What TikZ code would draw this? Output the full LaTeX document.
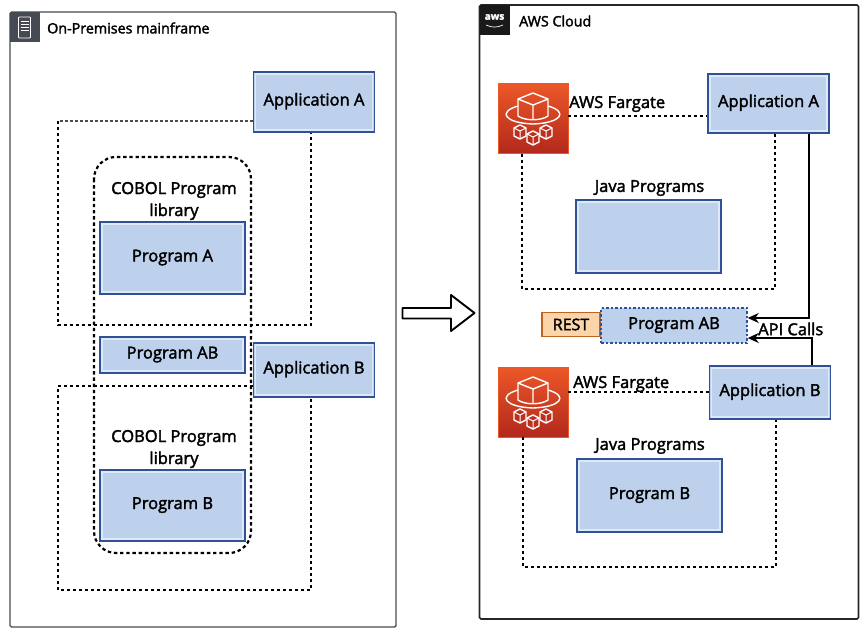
\documentclass[tikz,border=0pt]{standalone}
\usepackage{fontspec}
\setmainfont{Open Sans}[FakeBold=2.2]
\usetikzlibrary{arrows.meta}
\definecolor{boxfill}{RGB}{189,209,236}
\definecolor{boxline}{RGB}{47,82,150}
\definecolor{boxglow}{RGB}{222,233,247}
\definecolor{framec}{RGB}{70,74,82}
\definecolor{fgtop}{RGB}{236,88,40}
\definecolor{fgbot}{RGB}{178,40,28}
\definecolor{restfill}{RGB}{252,212,170}
\definecolor{restline}{RGB}{190,100,30}
\tikzset{
  x=1pt,y=-1pt,
  sz/.style 2 args={minimum width=#1pt,minimum height=#2pt},
  lbl/.style={font=\fontsize{16.5}{22}\selectfont,inner sep=0pt,align=center,text=black},
  small/.style={font=\fontsize{14.3}{20}\selectfont,inner sep=0pt,anchor=west,text=black},
  glow/.style={path picture={\draw[boxglow,line width=1.1pt] ([shift={(2pt,2pt)}]path picture bounding box.south west) rectangle ([shift={(-2pt,-2pt)}]path picture bounding box.north east);}},
  bluebox/.style={draw=boxline,line width=1.5pt,fill=boxfill,inner sep=0pt,font=\fontsize{16.5}{22}\selectfont,align=center,text height=12pt,text depth=5pt,glow},
  dots/.style={draw=black,line width=2.2pt,dash pattern=on 3pt off 3pt},
  conn/.style={draw=black,line width=2pt,-{Stealth[length=11pt,width=10pt]}},
  frame/.style={draw=framec,line width=1.4pt,rounded corners=1.5pt},
  fgbox/.style={inner sep=0pt,minimum width=70pt,minimum height=70pt,draw=fgtop,line width=.6pt,top color=fgtop,bottom color=fgbot},
  fgline/.style={white,line width=1.4pt,line join=round}
}
\newcommand{\fargate}[2]{%
  \begin{scope}[shift={(#1,#2)}]
    \draw[fgline] (-15,-13) -- (-15,4) .. controls (-8,9) and (8,9) .. (15,4) -- (15,-13) -- (0,-19) -- cycle;
    \draw[fgline] (-15,-13) -- (0,-7) -- (15,-13) (0,-7) -- (0,7);
    \draw[fgline] (-15,-6) .. controls (-36,0) and (-28,11) .. (0,12) .. controls (28,11) and (36,0) .. (15,-6);
    \foreach \cx/\cy in {-13/20,0/26,13/20}{
      \draw[fgline,fill=fgbot!85!fgtop] (\cx-6,\cy-4) -- (\cx,\cy-7) -- (\cx+6,\cy-4) -- (\cx+6,\cy+4) -- (\cx,\cy+7) -- (\cx-6,\cy+4) -- cycle;
      \draw[white,line width=1pt] (\cx-6,\cy-4) -- (\cx,\cy-1) -- (\cx+6,\cy-4) (\cx,\cy-1) -- (\cx,\cy+7);
    }
  \end{scope}}
\begin{document}
\begin{tikzpicture}
\useasboundingbox (0,0) rectangle (867,637);
\fill[white] (0,0) rectangle (867,637);
% left frame
\node[frame,sz={386}{615},inner sep=0pt] (onprem) at (203,319.5) {};
\node[fill=framec,sz={30}{30},inner sep=0pt] (srv) at (24.5,27) {};
\draw[white,line width=.8pt,rounded corners=.8pt] (18.5,17) rectangle (30.5,38);
\draw[white,line width=.7pt] (20.5,21)--(28.5,21) (20.5,24)--(28.5,24) (20.5,27)--(28.5,27) (20.5,30)--(28.5,30);
\node[small] (onpremt) at (47,28) {On-Premises mainframe};
% left dashed
\coordinate (la1) at (58,121);
\coordinate (la2) at (58,325);
\coordinate (la3) at (311,325);
\coordinate (lb1) at (253,386);
\coordinate (lb2) at (58,386);
\coordinate (lb3) at (58,590);
\coordinate (lb4) at (311,590);
\node[bluebox,sz={121}{60}] (appA) at (314,102) {Application A};
\node[bluebox,sz={121}{54}] (appB) at (314,370) {Application B};
\draw[draw=black!70,line width=1.1pt,dash pattern=on 3pt off 2pt] (appA.west |- la1) -- (la1);
\draw[dots] (la1) -- (la2) -- (la3) -- (appA.south -| la3);
\draw[dots] (lb1) -- (lb2) -- (lb3) -- (lb4) -- (appB.south -| lb4);
\draw[dots,dash pattern=on 3.4pt off 2.8pt,rounded corners=22pt] (94,157) rectangle (251,553);
\node[lbl] (cobA) at (174,201) {COBOL Program\\library};
\node[lbl] (cobB) at (174,449) {COBOL Program\\library};
\node[bluebox,sz={145}{72}] (progA) at (172.5,258) {Program A};
\node[bluebox,sz={145}{36}] (progABl) at (172.5,355) {Program AB};
\node[bluebox,sz={145}{71}] (progB) at (172.5,505.5) {Program B};
% arrow
\draw[black,line width=1.9pt,fill=white,line join=round] (402.5,308) -- (451,308) -- (451,295) -- (474.5,313) -- (451,331) -- (451,318.5) -- (402.5,318.5) -- cycle;
% right frame
\node[frame,draw=black!85,line width=1.7pt,sz={379}{614},inner sep=0pt] (aws) at (669,312) {};
\node[fill=black!90,sz={30}{30},inner sep=0pt] (awsl) at (494.5,20) {};
\node[text=white,font=\fontsize{10}{10}\selectfont\bfseries,inner sep=0pt] (awst) at (494.5,17) {aws};
\draw[white,line width=.7pt] (486,25) to[out=-25,in=205] (503,25);
\node[small] (awsc) at (519,21) {AWS Cloud};
% right top
\node[fgbox] (f1) at (533,118.5) {};
\fargate{533}{112}
\node[bluebox,sz={121}{59}] (rA) at (768.5,103.5) {Application A};
\node[lbl,anchor=west] (fl1) at (569,104) {AWS Fargate};
\draw[dots] (f1.east |- 0,116) -- (rA.west |- 0,116);
\coordinate (r1) at (522,289);
\coordinate (r2) at (775,289);
\draw[dots] (f1.south -| r1) -- (r1) -- (r2) -- (rA.south -| r2);
\node[lbl] (jp1) at (649.5,188) {Java Programs};
\node[bluebox,sz={145}{73}] (j1) at (648.5,236.5) {};
% REST
\node[draw=restline,line width=1.5pt,fill=restfill,inner sep=0pt,sz={58}{24},font=\fontsize{16}{20}\selectfont] (rest) at (571,324.5) {REST};
\node[draw=boxline,fill=boxfill,line width=1.5pt,dash pattern=on 2.5pt off 2pt,inner sep=0pt,sz={146}{35},font=\fontsize{16.5}{21}\selectfont,text height=12pt,text depth=5pt] (rAB) at (674,325.5) {Program AB};
\coordinate (c1) at (808.5,318);
\coordinate (c2) at (812,338);
\node[bluebox,sz={121}{53}] (rB) at (770,392.5) {Application B};
\draw[conn] (rA.south -| c1) -- (c1) -- (rAB.east |- c1);
\draw[conn] (rB.north -| c2) -- (c2) -- (rAB.east |- c2);
\node[lbl,anchor=west] (api) at (758,329) {API Calls};
% right bottom
\node[fgbox] (f2) at (533,402) {};
\fargate{533}{396}
\node[lbl,anchor=west] (fl2) at (573,384) {AWS Fargate};
\draw[dots] (f2.east |- 0,392) -- (rB.west |- 0,392);
\coordinate (s1) at (523,567);
\coordinate (s2) at (776,567);
\draw[dots] (f2.south -| s1) -- (s1) -- (s2) -- (rB.south -| s2);
\node[lbl] (jp2) at (650,446) {Java Programs};
\node[bluebox,sz={145}{73}] (j2) at (649.5,495.5) {Program B};
\end{tikzpicture}
\end{document}
